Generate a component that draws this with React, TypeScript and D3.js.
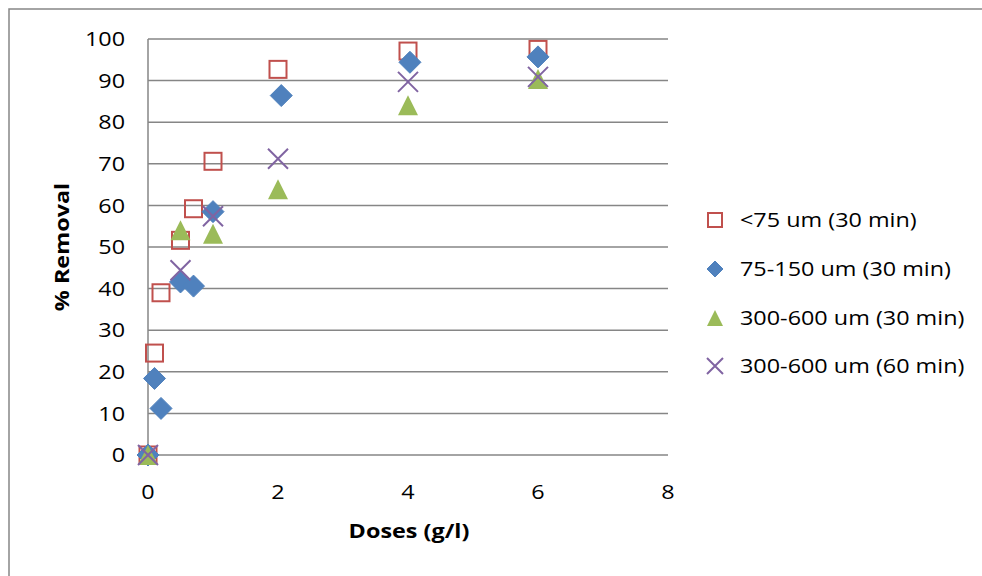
import React from "react";
import * as d3 from "d3";

const doses1 = [0, 0.1, 0.2, 0.5, 0.7, 1, 2, 4, 6];
const removal1 = [0, 24.5, 39, 51.6, 59.2, 70.6, 92.7, 97.1, 97.5];

const doses2 = [0, 0.1, 0.2, 0.5, 0.7, 1, 2.05, 4.03, 6];
const removal2 = [0, 18.4, 11.2, 41.6, 40.6, 58.5, 86.4, 94.4, 95.7];

const doses3 = [0, 0.5, 1, 2, 4, 6];
const removal3 = [0, 54, 53.2, 63.9, 84.1, 90.4];

const doses4 = [0, 0.5, 1, 2, 4, 6];
const removal4 = [0, 44.4, 57.4, 71.2, 89.7, 90.9];

const seriesNames = [
  "<75 um (30 min)",
  "75-150 um (30 min)",
  "300-600 um (30 min)",
  "300-600 um (60 min)",
];
const seriesColors = ["#C0504D", "#4F81BD", "#9BBB59", "#8064A2"];
const seriesShapes = ["square", "diamond", "triangle", "cross"];

const xTicks = [0, 2, 4, 6, 8];
const yTicks = [0, 10, 20, 30, 40, 50, 60, 70, 80, 90, 100];

const FONT = "'Open Sans', 'Liberation Sans', sans-serif";
const SX = 1.17;

function Marker({ shape, color, x, y, s }: { shape: string; color: string; x: number; y: number; s: number }) {
  const h = s / 2;
  if (shape === "square") {
    return <rect x={x - h + 1} y={y - h + 1} width={s - 2} height={s - 2} fill="none" stroke={color} strokeWidth={2} />;
  }
  if (shape === "diamond") {
    const r = h + 1;
    return <path d={`M${x},${y - r}L${x + r},${y}L${x},${y + r}L${x - r},${y}Z`} fill={color} stroke={color} strokeWidth={1} />;
  }
  if (shape === "triangle") {
    return <path d={`M${x},${y - h}L${x + h},${y + h}L${x - h},${y + h}Z`} fill={color} />;
  }
  return (
    <path d={`M${x - h},${y - h}L${x + h},${y + h}M${x - h},${y + h}L${x + h},${y - h}`} stroke={color} strokeWidth={2} fill="none" />
  );
}

function T({ x, y, anchor, bold, rotate, children }: { x: number; y: number; anchor?: string; bold?: boolean; rotate?: boolean; children: any }) {
  const tr = rotate ? `translate(${x},${y}) rotate(-90) scale(${SX},1)` : `translate(${x},${y}) scale(${SX},1)`;
  return (
    <text transform={tr} dy="0.36em" textAnchor={anchor || "start"} fontSize={20} fontWeight={bold ? "bold" : "normal"} fill="#000">
      {children}
    </text>
  );
}

export default function App() {
  const W = 982, H = 576;
  const left = 148, right = 668, top = 39, bottom = 455;
  const x = d3.scaleLinear().domain([0, 8]).range([left, right]);
  const y = d3.scaleLinear().domain([0, 100]).range([bottom, top]);

  const series = [
    { xs: doses1, ys: removal1 },
    { xs: doses2, ys: removal2 },
    { xs: doses3, ys: removal3 },
    { xs: doses4, ys: removal4 },
  ];

  const legendY = [220, 269, 318, 366];

  return (
    <svg width={W} height={H} style={{ position: "absolute", left: 0, top: 0, background: "#fff" }} fontFamily={FONT}>
      <rect x={9} y={9} width={W + 20} height={H + 20} fill="#fff" stroke="#868686" strokeWidth={1.5} />
      {yTicks.map((t) => (
        <line key={t} x1={left} x2={right} y1={y(t)} y2={y(t)} stroke="#868686" strokeWidth={1.5} />
      ))}
      <line x1={left} x2={left} y1={top} y2={bottom} stroke="#868686" strokeWidth={1.5} />
      {yTicks.map((t) => (
        <T key={t} x={125} y={y(t)} anchor="end">{t}</T>
      ))}
      {xTicks.map((t) => (
        <T key={t} x={x(t)} y={492} anchor="middle">{t}</T>
      ))}
      <T x={409} y={531} anchor="middle" bold>Doses (g/l)</T>
      <T x={62} y={247} anchor="middle" bold rotate>% Removal</T>
      {series.map((s, i) =>
        s.xs.map((d, j) => (
          <Marker key={`${i}-${j}`} shape={seriesShapes[i]} color={seriesColors[i]} x={x(d)} y={y(s.ys[j])} s={i === 0 ? 19 : 20} />
        ))
      )}
      {seriesNames.map((n, i) => (
        <g key={n}>
          <Marker shape={seriesShapes[i]} color={seriesColors[i]} x={715} y={legendY[i]} s={i === 1 ? 14 : 16} />
          <T x={740} y={legendY[i]}>{n}</T>
        </g>
      ))}
    </svg>
  );
}
